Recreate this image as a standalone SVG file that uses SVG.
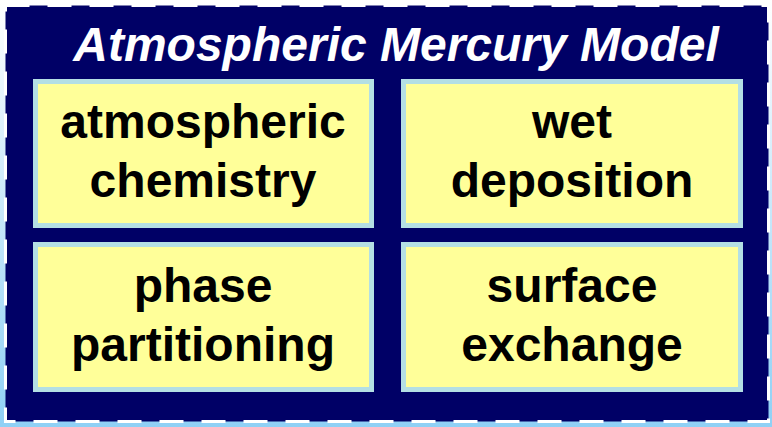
<svg xmlns="http://www.w3.org/2000/svg" width="772" height="427" viewBox="0 0 772 427">
  <defs>
    <linearGradient id="bg" x1="0" y1="0" x2="0" y2="1">
      <stop offset="0" stop-color="#ffffff"/>
      <stop offset="1" stop-color="#8fd0f5"/>
    </linearGradient>
  </defs>
  <style>
    .box { fill: #ffff99; stroke: #b4dfe4; stroke-width: 5; }
    .lbl { font-family: "Liberation Sans", Arial, sans-serif; font-weight: bold; font-size: 48px; fill: #000000; text-anchor: middle; }
    .title { font-family: "Liberation Sans", Arial, sans-serif; font-weight: bold; font-style: italic; font-size: 48px; fill: #ffffff; text-anchor: middle; }
  </style>
  <rect x="0" y="0" width="772" height="427" fill="url(#bg)"/>
  <g id="frame">
    <rect x="5.5" y="5.5" width="763" height="416" fill="#000066" stroke="#ffffff" stroke-width="3" stroke-dasharray="24 18"/>
    <text class="title" x="396" y="61">Atmospheric Mercury Model</text>
  </g>
  <g id="connectors"></g>
  <g id="atmospheric-chemistry">
    <rect class="box" x="35.5" y="81.5" width="336" height="144"/>
    <text class="lbl" x="203" y="138">atmospheric</text>
    <text class="lbl" x="203" y="197">chemistry</text>
  </g>
  <g id="wet-deposition">
    <rect class="box" x="403.5" y="81.5" width="337" height="144"/>
    <text class="lbl" x="572" y="138">wet</text>
    <text class="lbl" x="572" y="197">deposition</text>
  </g>
  <g id="phase-partitioning">
    <rect class="box" x="35.5" y="244.5" width="336" height="145"/>
    <text class="lbl" x="203" y="302">phase</text>
    <text class="lbl" x="203" y="361">partitioning</text>
  </g>
  <g id="surface-exchange">
    <rect class="box" x="403.5" y="244.5" width="337" height="145"/>
    <text class="lbl" x="572" y="302">surface</text>
    <text class="lbl" x="572" y="361">exchange</text>
  </g>
</svg>
